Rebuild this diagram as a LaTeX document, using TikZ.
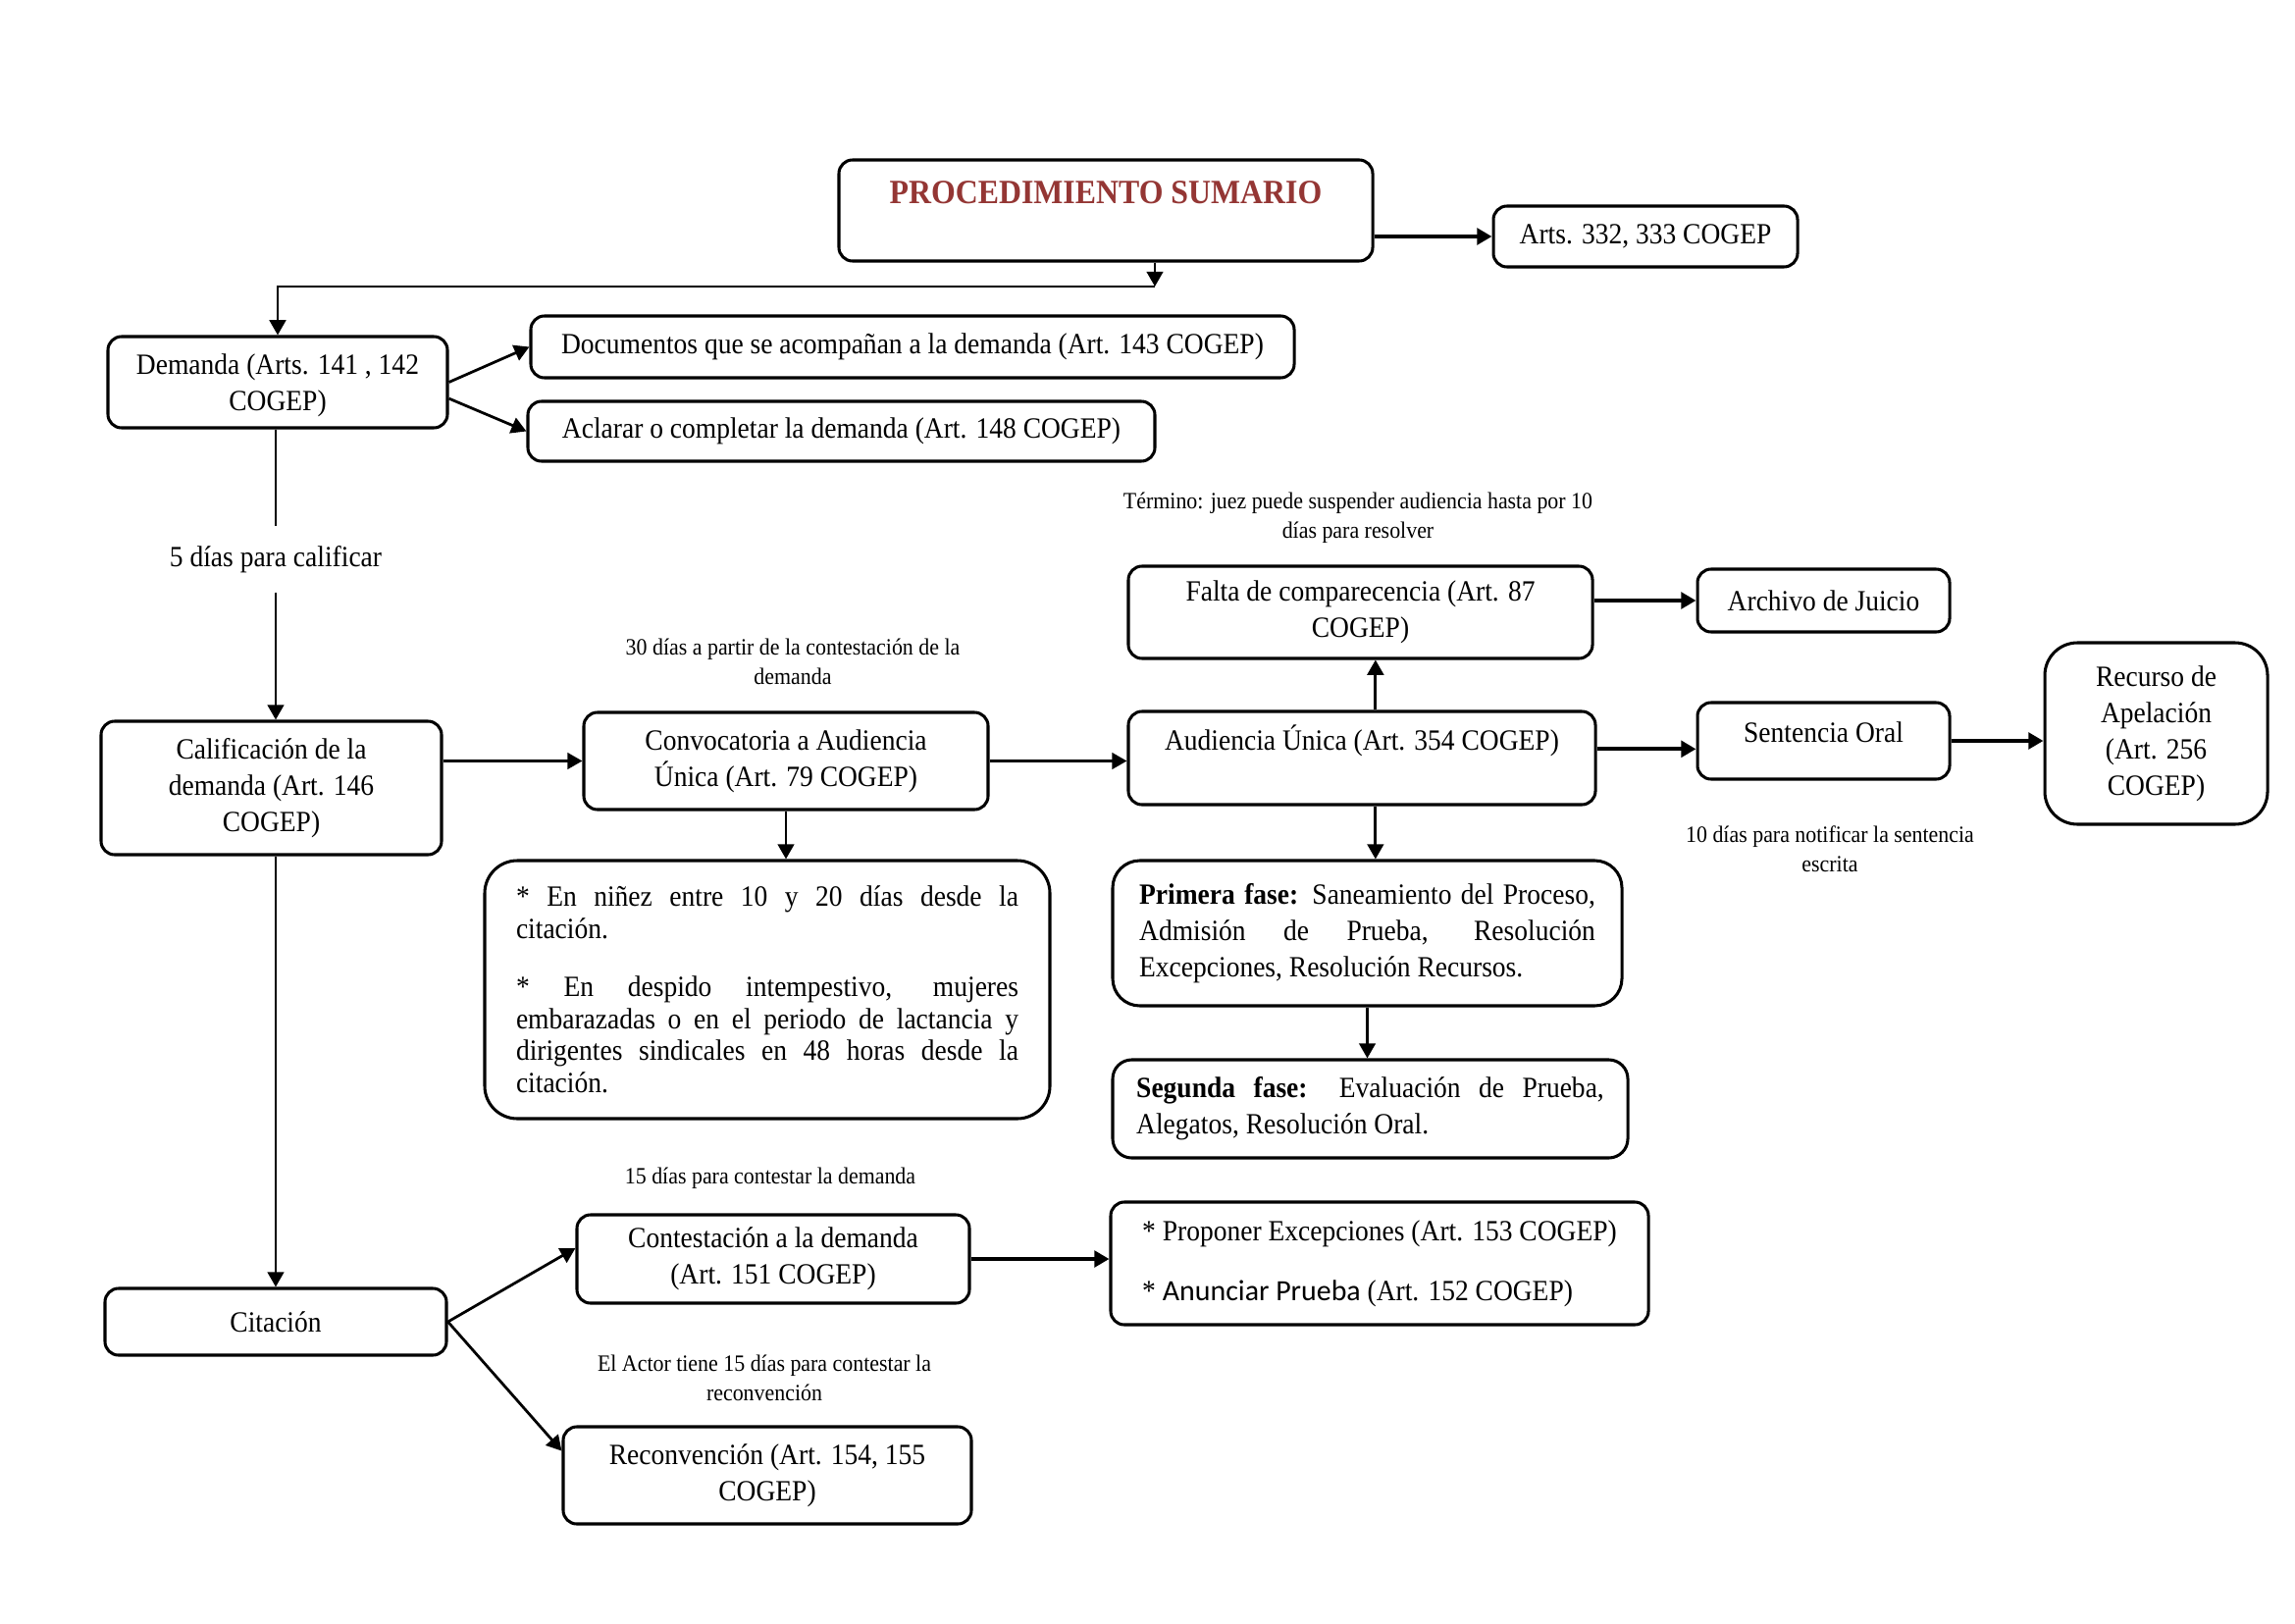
\documentclass[tikz,border=0pt]{standalone}
\usepackage{fontspec}
\setmainfont{Liberation Serif}[FakeStretch=0.92]
\newfontfamily\calibrifont{Carlito}
\usepackage{xcolor}
\usetikzlibrary{arrows.meta,positioning}
\definecolor{rojotitulo}{HTML}{943634}
\newcommand{\pxu}{0.0127cm}

\begin{document}
\begin{tikzpicture}[x=0.0127cm,y=-0.0127cm,
    caja/.style={draw,line width=1.1pt,rounded corners=5pt,align=center,inner sep=2pt,
      font=\fontsize{10.8}{13.4}\selectfont},
    nota/.style={align=center,inner sep=1pt,font=\fontsize{8.6}{10.8}\selectfont},
    flecha/.style={line width=1pt,-{Triangle[length=5.5pt,width=6pt]}},
    grueso/.style={line width=1.4pt,-{Triangle[length=5.5pt,width=6pt]}}]
  \useasboundingbox (0,0) rectangle (2339,1654);
  % cabecera
  \node[caja,minimum width=544*\pxu,minimum height=103*\pxu,text depth=13pt,
    font=\fontsize{12.5}{15}\selectfont\bfseries,text=rojotitulo] (titulo) at (1127,214.5) {PROCEDIMIENTO SUMARIO};
  \node[caja,minimum width=310*\pxu,minimum height=62*\pxu] (arts) at (1677,241) {Arts. 332, 333 COGEP};
  % demanda
  \node[caja,minimum width=346*\pxu,minimum height=93*\pxu,text depth=0pt] (demanda) at (283,389.5) {Demanda (Arts. 141 , 142\\COGEP)};
  \node[caja,minimum width=778*\pxu,minimum height=63*\pxu] (documentos) at (930,353.5) {Documentos que se acompañan a la demanda (Art. 143 COGEP)};
  \node[caja,minimum width=639*\pxu,minimum height=61*\pxu] (aclarar) at (857.5,439.5) {Aclarar o completar la demanda (Art. 148 COGEP)};
  \node[align=center,inner xsep=2pt,inner ysep=7pt,font=\fontsize{10.8}{13.4}\selectfont] (dias5) at (281,570) {5 días para calificar};
  \node[caja,minimum width=347*\pxu,minimum height=136*\pxu] (calificacion) at (276.5,803) {Calificación de la\\demanda (Art. 146\\COGEP)};
  % convocatoria
  \node[nota] (dias30) at (808,674) {30 días a partir de la contestación de la\\demanda};
  \node[caja,minimum width=412*\pxu,minimum height=99*\pxu] (convocatoria) at (801,775.5) {Convocatoria a Audiencia\\Única (Art. 79 COGEP)};
  \node[caja,rounded corners=12pt,minimum width=576*\pxu,minimum height=263*\pxu,text width=6.5cm,align=justify,
    font=\fontsize{10.8}{11.8}\selectfont] (ninez) at (782,1008.5) {* En niñez entre 10 y 20 días desde la\linebreak citación.\\[9.6pt]
    * En despido intempestivo, mujeres\linebreak embarazadas o en el periodo de lactancia y\linebreak dirigentes sindicales en 48 horas desde la\linebreak citación.};
  % audiencia
  \node[nota] (termino) at (1384,528) {Término: juez puede suspender audiencia hasta por 10\\días para resolver};
  \node[caja,minimum width=473*\pxu,minimum height=94*\pxu] (falta) at (1386.5,624) {Falta de comparecencia (Art. 87\\COGEP)};
  \node[caja,minimum width=476*\pxu,minimum height=95*\pxu,text depth=15pt] (audiencia) at (1388,772.5) {Audiencia Única (Art. 354 COGEP)};
  \node[caja,minimum width=257*\pxu,minimum height=64*\pxu] (archivo) at (1858.5,612) {Archivo de Juicio};
  \node[caja,minimum width=257*\pxu,minimum height=78*\pxu,text depth=6.5pt] (sentencia) at (1858.5,755) {Sentencia Oral};
  \node[caja,rounded corners=12pt,minimum width=227*\pxu,minimum height=185*\pxu] (recurso) at (2197.5,747.5) {Recurso de\\Apelación\\(Art. 256\\COGEP)};
  \node[nota] (dias10) at (1865,865) {10 días para notificar la sentencia\\escrita};
  \node[caja,rounded corners=10pt,minimum width=519*\pxu,minimum height=148*\pxu,text width=5.9cm,align=justify] (primera) at (1393.5,951)
    {\textbf{Primera fase:} Saneamiento del Proceso,\linebreak Admisión de Prueba, Resolución\linebreak Excepciones, Resolución Recursos.};
  \node[caja,rounded corners=7pt,minimum width=525*\pxu,minimum height=100*\pxu,text width=6.05cm,align=justify] (segunda) at (1396.5,1130)
    {\textbf{Segunda fase:} Evaluación de Prueba,\linebreak Alegatos, Resolución Oral.};
  % citacion
  \node[caja,minimum width=348*\pxu,minimum height=68*\pxu] (citacion) at (281,1347) {Citación};
  \node[nota] (dias15) at (785,1201) {15 días para contestar la demanda};
  \node[caja,minimum width=400*\pxu,minimum height=90*\pxu] (contestacion) at (788,1283) {Contestación a la demanda\\(Art. 151 COGEP)};
  \node[caja,minimum width=548*\pxu,minimum height=125*\pxu,align=left] (proponer) at (1406,1287.5)
    {* Proponer Excepciones (Art. 153 COGEP)\\[8.6pt]* {\calibrifont Anunciar Prueba} (Art. 152 COGEP)};
  \node[nota] (actor) at (779,1404) {El Actor tiene 15 días para contestar la\\reconvención};
  \node[caja,minimum width=416*\pxu,minimum height=99*\pxu] (reconvencion) at (782,1503.5) {Reconvención (Art. 154, 155\\COGEP)};
  % conectores
  \coordinate (codo) at (1177,292);
  \draw[grueso] (titulo.east |- arts.west) -- (arts.west);
  \draw[flecha] (titulo.south -| codo) -- (codo);
  \draw[flecha] (codo) -- (codo -| demanda.north) -- (demanda.north);
  \draw[flecha] (demanda.east) -- (documentos.west);
  \draw[flecha] ([yshift=-6pt]demanda.east) -- (aclarar.west);
  \draw[line width=1pt] (demanda.south -| dias5) -- (dias5.north);
  \draw[flecha] (dias5.south) -- (dias5.south |- calificacion.north);
  \draw[flecha] (calificacion.east |- convocatoria.west) -- (convocatoria.west);
  \draw[flecha] (convocatoria.south) -- (convocatoria.south |- ninez.north);
  \draw[flecha] (convocatoria.east) -- (convocatoria.east -| audiencia.west);
  \draw[flecha] ([xshift=5pt]audiencia.north) -- ([xshift=5pt]audiencia.north |- falta.south);
  \draw[grueso] (falta.east |- archivo.west) -- (archivo.west);
  \draw[grueso] ([yshift=-3pt]audiencia.east |- sentencia.west) -- ([yshift=-3pt]sentencia.west);
  \draw[grueso] (sentencia.east) -- (sentencia.east -| recurso.west);
  \draw[flecha] ([xshift=5pt]audiencia.south) -- ([xshift=5pt]audiencia.south |- primera.north);
  \draw[flecha] (primera.south) -- (primera.south |- segunda.north);
  \draw[flecha] (calificacion.south -| dias5) -- (dias5 |- citacion.north);
  \draw[flecha] (citacion.east) -- ([yshift=4pt]contestacion.west);
  \draw[flecha] (citacion.east) -- ([yshift=9pt]reconvencion.west);
  \draw[grueso] (contestacion.east) -- (contestacion.east -| proponer.west);
\end{tikzpicture}
\end{document}
